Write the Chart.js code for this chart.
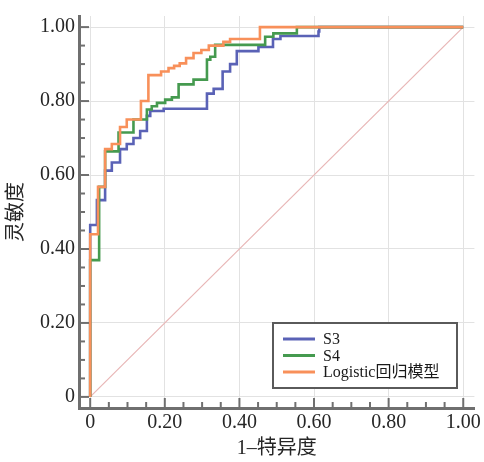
<!DOCTYPE html>
<html lang="zh">
<head>
<meta charset="UTF-8" />
<title>ROC</title>
<style>
  html, body { margin: 0; padding: 0; background: #fff; }
</style>
</head>
<body>
<canvas id="roc" width="484" height="462"></canvas>
<script src="https://cdn.jsdelivr.net/npm/chart.js@4.4.1/dist/chart.umd.min.js"></script>
<script>
// ROC curves: 1-specificity (x) vs sensitivity (y), corner points of each staircase
const seriesNames = ["S3", "S4", "Logistic回归模型"];
const seriesColors = ["#5a62b6", "#459a4f", "#f8905a"];

const s3X = [0, 0, 0.018, 0.04, 0.058, 0.08, 0.098, 0.116, 0.134, 0.152, 0.161, 0.197, 0.313, 0.331, 0.355, 0.375, 0.393, 0.451, 0.49, 0.51, 0.612, 0.614, 1];
const s3Y = [0, 0.465, 0.532, 0.612, 0.634, 0.67, 0.684, 0.70, 0.719, 0.76, 0.773, 0.779, 0.82, 0.833, 0.88, 0.90, 0.935, 0.946, 0.968, 0.976, 0.988, 1, 1];

const s4X = [0, 0, 0.024, 0.04, 0.076, 0.116, 0.152, 0.165, 0.179, 0.201, 0.219, 0.237, 0.277, 0.313, 0.322, 0.335, 0.469, 0.491, 0.554, 1];
const s4Y = [0, 0.37, 0.568, 0.664, 0.715, 0.75, 0.777, 0.786, 0.795, 0.804, 0.81, 0.845, 0.858, 0.912, 0.92, 0.952, 0.974, 0.983, 1, 1];

const logX = [0, 0, 0.021, 0.04, 0.058, 0.08, 0.098, 0.136, 0.156, 0.19, 0.21, 0.225, 0.24, 0.257, 0.277, 0.298, 0.318, 0.357, 0.375, 0.455, 1];
const logY = [0, 0.44, 0.568, 0.67, 0.684, 0.73, 0.75, 0.80, 0.87, 0.88, 0.889, 0.895, 0.902, 0.916, 0.93, 0.938, 0.95, 0.96, 0.968, 1, 1];

const diagX = [0, 1];
const diagY = [0, 1];

const tickValues = [0, 0.2, 0.4, 0.6, 0.8, 1.0];
const tickLabels = ["0", "0.20", "0.40", "0.60", "0.80", "1.00"];

const xTitle = "1–特异度";
const yTitle = "灵敏度";

const toPoints = (xs, ys) => xs.map((x, i) => ({ x: x, y: ys[i] }));

const serifFont = "'Liberation Serif', 'Noto Sans CJK SC', serif";
const axisColor = "#6f6f6f";

// inward minor/major tick marks on both axes
const tickMarks = {
  id: "tickMarks",
  afterDraw(chart) {
    const ctx = chart.ctx;
    const xs = chart.scales.x, ys = chart.scales.y;
    const area = chart.chartArea;
    ctx.save();
    ctx.strokeStyle = axisColor;
    ctx.lineWidth = 2;
    for (let i = 0; i <= 20; i++) {
      const v = i / 20;
      const len = i % 4 === 0 ? 10 : 6;
      const px = xs.getPixelForValue(v);
      ctx.beginPath();
      ctx.moveTo(px, area.bottom);
      ctx.lineTo(px, area.bottom - len);
      ctx.stroke();
      const py = ys.getPixelForValue(v);
      ctx.beginPath();
      ctx.moveTo(area.left, py);
      ctx.lineTo(area.left + len, py);
      ctx.stroke();
    }
    ctx.restore();
  }
};

// boxed legend inside the plot
const boxLegend = {
  id: "boxLegend",
  afterDraw(chart) {
    const ctx = chart.ctx;
    ctx.save();
    ctx.fillStyle = "#fff";
    ctx.fillRect(273, 323, 184, 65);
    ctx.strokeStyle = "#5a5a5a";
    ctx.lineWidth = 2;
    ctx.strokeRect(273, 323, 184, 65);
    ctx.font = "16px " + serifFont;
    ctx.textBaseline = "middle";
    seriesNames.forEach((name, i) => {
      const y = 339 + i * 16.5;
      ctx.strokeStyle = seriesColors[i];
      ctx.lineWidth = 3;
      ctx.beginPath();
      ctx.moveTo(283, y);
      ctx.lineTo(315, y);
      ctx.stroke();
      ctx.fillStyle = "#1a1a1a";
      ctx.fillText(name, 323, y + 1);
    });
    ctx.restore();
  }
};

const lineSet = (label, xs, ys, color, order) => ({
  label: label,
  data: toPoints(xs, ys),
  borderColor: color,
  borderWidth: 2.6,
  pointRadius: 0,
  stepped: "before",
  fill: false,
  order: order
});

new Chart(document.getElementById("roc").getContext("2d"), {
  type: "line",
  data: {
    datasets: [
      lineSet(seriesNames[0], s3X, s3Y, seriesColors[0], 2),
      lineSet(seriesNames[1], s4X, s4Y, seriesColors[1], 1),
      lineSet(seriesNames[2], logX, logY, seriesColors[2], 0),
      {
        label: "ref",
        data: toPoints(diagX, diagY),
        borderColor: "#e8b6b6",
        borderWidth: 1.2,
        pointRadius: 0,
        fill: false,
        order: 10
      }
    ]
  },
  options: {
    responsive: false,
    animation: false,
    layout: { padding: { top: 13, right: 9, left: 0, bottom: 0 } },
    plugins: { legend: { display: false }, tooltip: { enabled: false } },
    scales: {
      x: {
        type: "linear",
        min: -0.03,
        max: 1.03,
        afterBuildTicks: (s) => { s.ticks = tickValues.map((v) => ({ value: v })); },
        afterFit: (s) => { s.height = 54; },
        ticks: {
          callback: (v) => tickLabels[tickValues.indexOf(v)],
          font: { family: serifFont, size: 20 },
          color: "#262626",
          padding: 3,
          maxRotation: 0,
          autoSkip: false
        },
        grid: { color: "#e2e2e2", drawTicks: false },
        border: { color: axisColor, width: 3 },
        title: {
          display: true,
          text: xTitle,
          font: { family: serifFont, size: 20 },
          color: "#262626",
          padding: { top: 0, bottom: 1 }
        }
      },
      y: {
        type: "linear",
        min: -0.03,
        max: 1.03,
        afterBuildTicks: (s) => { s.ticks = tickValues.map((v) => ({ value: v })); },
        afterFit: (s) => { s.width = 79; },
        ticks: {
          callback: (v) => tickLabels[tickValues.indexOf(v)],
          font: { family: serifFont, size: 20 },
          color: "#262626",
          padding: 4,
          autoSkip: false
        },
        grid: { color: "#e2e2e2", drawTicks: false },
        border: { color: axisColor, width: 3 },
        title: {
          display: true,
          text: yTitle,
          font: { family: serifFont, size: 20 },
          color: "#262626",
          padding: { top: 5, bottom: 0 }
        }
      }
    }
  },
  plugins: [tickMarks, boxLegend]
});
</script>
</body>
</html>
